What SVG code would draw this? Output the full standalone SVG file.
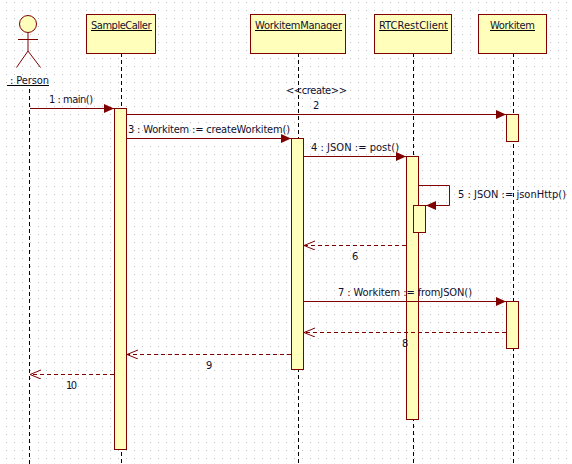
<svg xmlns="http://www.w3.org/2000/svg" width="572" height="464" viewBox="0 0 572 464">
<style>
.box{fill:#ffffbb;stroke:#800000;stroke-width:1}
.life{fill:none;stroke:#000;stroke-width:1;stroke-dasharray:4 3}
.msg{fill:none;stroke:#800000;stroke-width:1}
.ret{fill:none;stroke:#800000;stroke-width:1;stroke-dasharray:4 3}
.open{fill:none;stroke:#800000;stroke-width:1}
.head{fill:#800000;stroke:none}
text{font-family:"DejaVu Sans Condensed","DejaVu Sans",sans-serif;font-stretch:condensed;font-size:11px;fill:#101030}
.u{stroke:#000;stroke-width:1}
</style>
<defs>
<pattern id="grid" x="6" y="2" width="8" height="8" patternUnits="userSpaceOnUse"><rect width="1" height="1" fill="#c0c0c0"/></pattern>
<marker id="fill" markerWidth="11" markerHeight="10" refX="10" refY="4.500" orient="auto" markerUnits="userSpaceOnUse"><path class="head" d="M0,0L10,4.500L0,9Z"/></marker>
<marker id="openh" markerWidth="12" markerHeight="10" refX="11" refY="4.500" orient="auto" markerUnits="userSpaceOnUse"><path class="open" d="M0,0L11,4.500L0,9"/></marker>
</defs>
<rect width="572" height="464" fill="#fff"/>
<rect width="572" height="464" fill="url(#grid)"/>
<g id="lifelines">
<path class="life" d="M29.500,89V464M121.500,53V464M298.500,53V464M413.500,53V464M513.500,53V464"/>
</g>
<g id="person">
<circle cx="28" cy="24" r="8.500" fill="#ffffbb" stroke="#800000"/>
<path d="M28,32.500V51M18,39.500H38M28,51L16.500,67.500M28,51L40.500,67.500" fill="none" stroke="#800000"/>
<text x="10" y="84" textLength="39">: Person</text><path class="u" d="M7,85.500H49"/>
</g>
<g id="samplecaller"><rect class="box" x="86.500" y="14.500" width="69" height="39"/><text x="91" y="29" textLength="60.500">SampleCaller</text><path class="u" d="M91,30.500H152"/></g>
<g id="workitemmanager"><rect class="box" x="250.500" y="14.500" width="95" height="39"/><text x="255" y="29" textLength="87">WorkitemManager</text><path class="u" d="M255,30.500H342"/></g>
<g id="rtcrestclient"><rect class="box" x="374.500" y="14.500" width="77" height="39"/><text x="379" y="29" textLength="69">RTCRestClient</text><path class="u" d="M379,30.500H448"/></g>
<g id="workitem"><rect class="box" x="478.500" y="14.500" width="68" height="39"/><text x="490" y="29" textLength="45">Workitem</text><path class="u" d="M490,30.500H535"/></g>
<g id="activations">
<rect class="box" x="114.500" y="108.500" width="12" height="341"/>
<rect class="box" x="291.500" y="138.500" width="12" height="231"/>
<rect class="box" x="406.500" y="156.500" width="12" height="263"/>
<rect class="box" x="413.500" y="205.500" width="12" height="27"/>
<rect class="box" x="506.500" y="114.500" width="12" height="27"/>
<rect class="box" x="506.500" y="301.500" width="12" height="47"/>
</g>
<g id="connectors">
<path class="msg" marker-end="url(#fill)" d="M30,108.500H114"/>
<path class="msg" marker-end="url(#fill)" d="M127,114.500H506"/>
<path class="msg" marker-end="url(#fill)" d="M127,138.500H291"/>
<path class="msg" marker-end="url(#fill)" d="M304,156.500H406"/>
<path class="msg" marker-end="url(#fill)" d="M419,185.500H449.500V205.500H426"/>
<path class="ret" marker-end="url(#openh)" d="M406,245.500H304"/>
<path class="msg" marker-end="url(#fill)" d="M304,301.500H506"/>
<path class="ret" marker-end="url(#openh)" d="M506,332.500H304"/>
<path class="ret" marker-end="url(#openh)" d="M291,354.500H127"/>
<path class="ret" marker-end="url(#openh)" d="M114,374.500H30"/>
</g>
<g id="labels">
<text x="49" y="103" textLength="44">1 : main()</text>
<text x="286" y="94" textLength="61">&lt;&lt;create&gt;&gt;</text>
<text x="313" y="109">2</text>
<text x="128" y="133" textLength="162">3 : Workitem := createWorkitem()</text>
<text x="311" y="151" textLength="88">4 : JSON := post()</text>
<text x="458" y="198" textLength="108">5 : JSON := jsonHttp()</text>
<text x="352" y="260">6</text>
<text x="338" y="296" textLength="134">7 : Workitem := fromJSON()</text>
<text x="402" y="347">8</text>
<text x="206" y="369">9</text>
<text x="66" y="389" textLength="11">10</text>
</g>
</svg>
